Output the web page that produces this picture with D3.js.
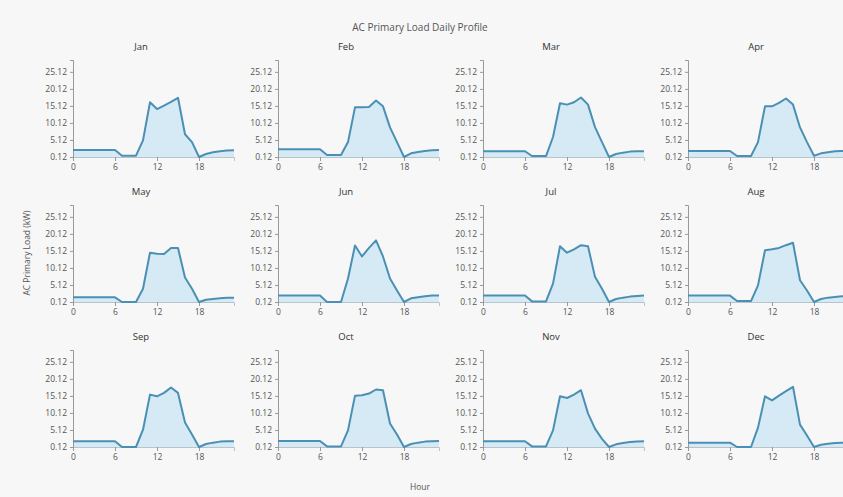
<!DOCTYPE html>
<html><head><meta charset="utf-8">
<script src="https://cdn.jsdelivr.net/npm/d3@7"></script>
<style>
html,body{margin:0;padding:0;background:#f7f7f7;}
svg{display:block;font-family:"Open Sans",sans-serif;}
</style></head><body>
<svg id="c" width="843" height="497"></svg>
<script>
const months = ["Jan","Feb","Mar","Apr","May","Jun","Jul","Aug","Sep","Oct","Nov","Dec"];
const hours = [0,1,2,3,4,5,6,7,8,9,10,11,12,13,14,15,16,17,18,19,20,21,22,23];
const xTicks = [0,6,12,18];
const yTicks = [0.12,5.12,10.12,15.12,20.12,25.12];
const jan = [2.2,2.2,2.2,2.2,2.2,2.2,2.2,0.5,0.5,0.5,5.0,16.2,14.2,15.2,16.3,17.5,6.8,4.5,0.12,1.0,1.5,1.8,2.0,2.1];
const feb = [2.4,2.4,2.4,2.4,2.4,2.4,2.4,0.7,0.7,0.7,4.5,14.7,14.7,14.8,16.7,15.0,8.8,4.5,0.12,1.2,1.6,1.9,2.1,2.2];
const mar = [1.8,1.8,1.8,1.8,1.8,1.8,1.8,0.4,0.4,0.4,6.0,15.9,15.5,16.2,17.6,15.5,8.9,4.5,0.12,1.0,1.4,1.7,1.8,1.8];
const apr = [1.9,1.9,1.9,1.9,1.9,1.9,1.9,0.4,0.4,0.4,4.5,15.0,15.0,16.0,17.3,15.5,8.8,4.5,0.5,1.2,1.5,1.8,1.9,1.9];
const may = [1.5,1.5,1.5,1.5,1.5,1.5,1.5,0.12,0.12,0.12,4.0,14.6,14.3,14.2,16.0,16.0,7.3,4.0,0.12,0.8,1.0,1.2,1.4,1.4];
const jun = [2.0,2.0,2.0,2.0,2.0,2.0,2.0,0.12,0.12,0.12,7.0,16.7,13.5,16.0,18.2,13.5,7.0,3.5,0.12,1.2,1.5,1.8,2.0,2.0];
const jul = [2.0,2.0,2.0,2.0,2.0,2.0,2.0,0.3,0.3,0.3,5.5,16.5,14.6,15.6,16.8,16.5,7.5,4.0,0.12,1.0,1.4,1.7,1.9,2.0];
const aug = [2.0,2.0,2.0,2.0,2.0,2.0,2.0,0.4,0.4,0.4,5.0,15.3,15.6,16.0,16.8,17.5,6.5,3.5,0.12,1.0,1.4,1.6,1.8,1.9];
const sep = [1.8,1.8,1.8,1.8,1.8,1.8,1.8,0.12,0.12,0.12,5.2,15.5,15.0,16.0,17.6,16.0,7.3,3.8,0.12,1.0,1.4,1.7,1.8,1.8];
const oct = [1.9,1.9,1.9,1.9,1.9,1.9,1.9,0.3,0.3,0.3,5.0,15.2,15.3,15.8,17.0,16.8,7.0,3.8,0.12,1.0,1.4,1.7,1.8,1.9];
const nov = [1.8,1.8,1.8,1.8,1.8,1.8,1.8,0.3,0.3,0.3,5.0,15.0,14.5,15.5,16.8,10.0,5.5,2.5,0.12,0.9,1.3,1.6,1.7,1.8];
const dec = [1.4,1.4,1.4,1.4,1.4,1.4,1.4,0.12,0.12,0.12,5.8,15.0,13.8,15.2,16.5,17.8,6.7,3.5,0.12,0.8,1.1,1.3,1.4,1.4];
const series = [jan,feb,mar,apr,may,jun,jul,aug,sep,oct,nov,dec];

const svg = d3.select("#c");
const textColor = "#555";
const lineColor = "#4a90b4";
const fillColor = "#cfe7f3";

const colStart = 73, colStep = 205, rowBase = 157, rowStep = 145;
const plotW = 161, plotH = 97;
const x = d3.scaleLinear().domain([0,23]).range([0,plotW]);
const y = d3.scaleLinear().domain([0.12,28.6]).range([plotH,0]);

svg.append("text").attr("x",420).attr("y",31).attr("text-anchor","middle")
  .attr("font-size",10).attr("fill",textColor).text("AC Primary Load Daily Profile");

months.forEach((m,i)=>{
  const c = i%4, r = Math.floor(i/4);
  const g = svg.append("g").attr("transform",`translate(${colStart+c*colStep},${rowBase+r*rowStep-plotH})`);
  const vals = series[i];
  const pts = hours.map((h,k)=>[h,vals[k]]);
  g.append("path").datum(pts)
    .attr("d", d3.area().x(d=>x(d[0])).y0(y(0.12)).y1(d=>y(d[1])))
    .attr("fill",fillColor).attr("fill-opacity",0.85);
  const xa = g.append("g").attr("transform",`translate(0,${plotH})`)
    .call(d3.axisBottom(x).tickValues(xTicks).tickSize(4).tickFormat(d3.format("d")));
  xa.select(".domain").attr("stroke","#b8c4c9");
  xa.selectAll(".tick line").attr("stroke","#999");
  xa.selectAll("text").attr("fill",textColor).attr("font-size",8.5).attr("font-family","Open Sans, sans-serif");
  const ya = g.append("g")
    .call(d3.axisLeft(y).tickValues(yTicks).tickSize(3).tickFormat(d3.format(".2f")));
  ya.select(".domain").attr("stroke","#999");
  ya.selectAll(".tick line").attr("stroke","#999");
  ya.selectAll("text").attr("fill",textColor).attr("font-size",8.5).attr("font-family","Open Sans, sans-serif");
  g.append("path").datum(pts)
    .attr("d", d3.line().x(d=>x(d[0])).y(d=>y(d[1])))
    .attr("fill","none").attr("stroke",lineColor).attr("stroke-width",2).attr("stroke-linejoin","round");
  g.append("text").attr("x",68).attr("y",-10).attr("text-anchor","middle")
    .attr("font-size",9.5).attr("fill","#333").text(m);
});

svg.append("text").attr("transform","translate(30,253) rotate(-90)").attr("text-anchor","middle")
  .attr("font-size",8.5).attr("fill",textColor).text("AC Primary Load (kW)");
svg.append("text").attr("x",420).attr("y",490).attr("text-anchor","middle")
  .attr("font-size",8.5).attr("fill",textColor).text("Hour");
</script></body></html>
